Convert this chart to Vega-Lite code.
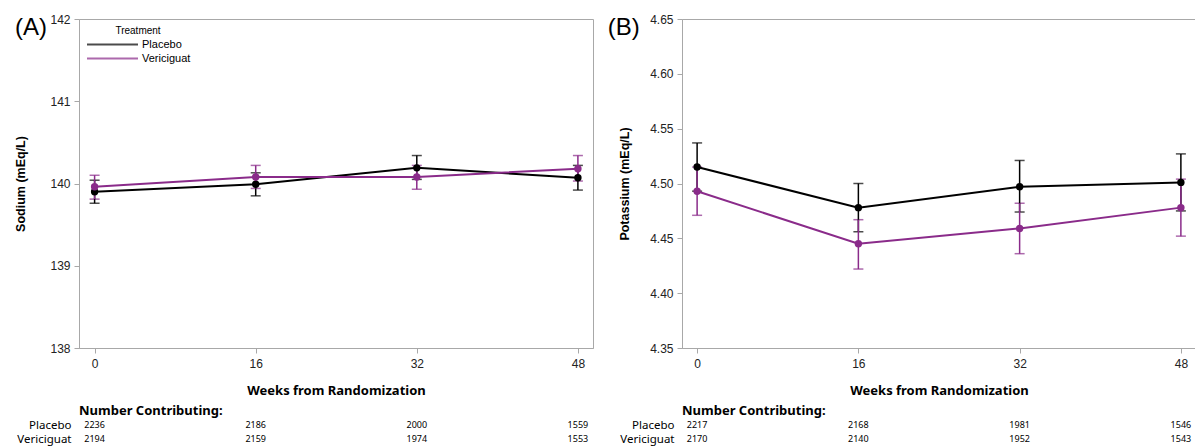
{
  "$schema": "https://vega.github.io/schema/vega-lite/v6.json",
  "background": "white",
  "padding": {"left": 14, "top": 12, "right": 0, "bottom": 0},
  "spacing": 13,
  "datasets": {
    "sodium": [
      {"week": 0, "trt": "Placebo", "mean": 139.90, "lo": 139.76, "hi": 140.04},
      {"week": 16, "trt": "Placebo", "mean": 139.99, "lo": 139.85, "hi": 140.13},
      {"week": 32, "trt": "Placebo", "mean": 140.19, "lo": 140.05, "hi": 140.34},
      {"week": 48, "trt": "Placebo", "mean": 140.07, "lo": 139.92, "hi": 140.22},
      {"week": 0, "trt": "Vericiguat", "mean": 139.96, "lo": 139.81, "hi": 140.10},
      {"week": 16, "trt": "Vericiguat", "mean": 140.08, "lo": 139.94, "hi": 140.22},
      {"week": 32, "trt": "Vericiguat", "mean": 140.08, "lo": 139.93, "hi": 140.22},
      {"week": 48, "trt": "Vericiguat", "mean": 140.18, "lo": 140.03, "hi": 140.34}
    ],
    "potassium": [
      {"week": 0, "trt": "Placebo", "mean": 4.515, "lo": 4.493, "hi": 4.537},
      {"week": 16, "trt": "Placebo", "mean": 4.478, "lo": 4.456, "hi": 4.500},
      {"week": 32, "trt": "Placebo", "mean": 4.497, "lo": 4.474, "hi": 4.521},
      {"week": 48, "trt": "Placebo", "mean": 4.501, "lo": 4.475, "hi": 4.527},
      {"week": 0, "trt": "Vericiguat", "mean": 4.493, "lo": 4.471, "hi": 4.515},
      {"week": 16, "trt": "Vericiguat", "mean": 4.445, "lo": 4.422, "hi": 4.467},
      {"week": 32, "trt": "Vericiguat", "mean": 4.459, "lo": 4.436, "hi": 4.482},
      {"week": 48, "trt": "Vericiguat", "mean": 4.478, "lo": 4.452, "hi": 4.504}
    ],
    "countsA": [
      {"week": 0, "trt": "Placebo", "n": 2236},
      {"week": 16, "trt": "Placebo", "n": 2186},
      {"week": 32, "trt": "Placebo", "n": 2000},
      {"week": 48, "trt": "Placebo", "n": 1559},
      {"week": 0, "trt": "Vericiguat", "n": 2194},
      {"week": 16, "trt": "Vericiguat", "n": 2159},
      {"week": 32, "trt": "Vericiguat", "n": 1974},
      {"week": 48, "trt": "Vericiguat", "n": 1553}
    ],
    "countsB": [
      {"week": 0, "trt": "Placebo", "n": 2217},
      {"week": 16, "trt": "Placebo", "n": 2168},
      {"week": 32, "trt": "Placebo", "n": 1981},
      {"week": 48, "trt": "Placebo", "n": 1546},
      {"week": 0, "trt": "Vericiguat", "n": 2170},
      {"week": 16, "trt": "Vericiguat", "n": 2140},
      {"week": 32, "trt": "Vericiguat", "n": 1952},
      {"week": 48, "trt": "Vericiguat", "n": 1543}
    ]
  },
  "hconcat": [
    {
      "spacing": 7,
      "vconcat": [
        {
          "title": {"text": "(A)", "anchor": "start", "frame": "bounds", "fontSize": 24, "fontWeight": "normal", "font": "Liberation Sans", "color": "black", "baseline": "top", "offset": 0, "dy": 27},
          "width": 514,
          "height": 329,
          "data": {"name": "sodium"},
          "layer": [
            {
              "mark": {"type": "errorbar", "ticks": {"size": 10}, "thickness": 1.5},
              "encoding": {
                "x": {"field": "week", "type": "quantitative", "scale": {"domain": [-1.55, 49.5], "nice": false, "zero": false}, "axis": {"values": [0, 16, 32, 48], "title": "Weeks from Randomization", "titleFont": "Noto Sans", "titleFontSize": 13, "titlePadding": 15, "labelPadding": 5, "labelFlush": false}},
                "y": {"field": "lo", "type": "quantitative", "scale": {"domain": [138, 142], "nice": false, "zero": false}, "axis": {"values": [138, 139, 140, 141, 142], "format": "d", "title": "Sodium (mEq/L)", "titlePadding": 22}},
                "y2": {"field": "hi"},
                "color": {"field": "trt", "type": "nominal", "scale": {"domain": ["Placebo", "Vericiguat"], "range": ["#000000", "#8a2b8a"]}}
              }
            },
            {
              "mark": {"type": "line", "strokeWidth": 2},
              "encoding": {
                "x": {"field": "week", "type": "quantitative"},
                "y": {"field": "mean", "type": "quantitative", "axis": {"values": [138, 139, 140, 141, 142], "format": "d", "title": "Sodium (mEq/L)", "titlePadding": 22}},
                "color": {"field": "trt", "type": "nominal", "scale": {"domain": ["Placebo", "Vericiguat"], "range": ["#000000", "#8a2b8a"]}, "legend": {"title": "Treatment", "orient": "top-left", "offset": 7, "symbolType": "M-5,0H5", "symbolSize": 104, "symbolStrokeWidth": 2, "symbolOffset": 20, "labelOffset": 23, "titleAnchor": "middle", "titleFontSize": 10, "titleFontWeight": "normal", "titleFont": "Liberation Sans", "labelFont": "Liberation Sans", "labelFontSize": 11, "titleColor": "black", "labelColor": "black", "titlePadding": 2, "rowPadding": 2, "padding": 0}}
              }
            },
            {
              "mark": {"type": "point", "filled": true, "size": 55, "opacity": 1},
              "encoding": {
                "x": {"field": "week", "type": "quantitative"},
                "y": {"field": "mean", "type": "quantitative"},
                "fill": {"field": "trt", "type": "nominal", "scale": {"domain": ["Placebo", "Vericiguat"], "range": ["#000000", "#8a2b8a"]}, "legend": null}
              }
            }
          ]
        },
        {
          "width": 514,
          "height": 28,
          "view": {"stroke": null},
          "title": {"text": "Number Contributing:", "anchor": "start", "frame": "group", "font": "Noto Sans", "fontSize": 13, "fontWeight": "bold", "color": "black", "offset": 0},
          "data": {"name": "countsA"},
          "mark": {"type": "text", "font": "Noto Sans", "fontSize": 9, "color": "black"},
          "encoding": {
            "x": {"field": "week", "type": "quantitative", "scale": {"domain": [-1.55, 49.5], "nice": false, "zero": false}, "axis": null},
            "y": {"field": "trt", "type": "nominal", "scale": {"domain": ["Placebo", "Vericiguat"], "paddingInner": 0, "paddingOuter": 0}, "axis": {"title": null, "domain": false, "ticks": false, "labelPadding": 8, "labelFont": "Noto Sans", "labelFontSize": 11.5, "labelColor": "black"}},
            "text": {"field": "n", "type": "quantitative", "format": "d"}
          }
        }
      ]
    },
    {
      "spacing": 7,
      "vconcat": [
        {
          "title": {"text": "(B)", "anchor": "start", "frame": "bounds", "fontSize": 24, "fontWeight": "normal", "font": "Liberation Sans", "color": "black", "baseline": "top", "offset": 0, "dy": 27, "dx": -11},
          "width": 514,
          "height": 329,
          "data": {"name": "potassium"},
          "layer": [
            {
              "mark": {"type": "errorbar", "ticks": {"size": 10}, "thickness": 1.5},
              "encoding": {
                "x": {"field": "week", "type": "quantitative", "scale": {"domain": [-1.5, 49.5], "nice": false, "zero": false}, "axis": {"values": [0, 16, 32, 48], "title": "Weeks from Randomization", "titleFont": "Noto Sans", "titleFontSize": 13, "titlePadding": 15, "labelPadding": 5, "labelFlush": false}},
                "y": {"field": "lo", "type": "quantitative", "scale": {"domain": [4.35, 4.65], "nice": false, "zero": false}, "axis": {"values": [4.35, 4.40, 4.45, 4.50, 4.55, 4.60, 4.65], "format": ".2f", "title": "Potassium (mEq/L)", "titlePadding": 18}},
                "y2": {"field": "hi"},
                "color": {"field": "trt", "type": "nominal", "scale": {"domain": ["Placebo", "Vericiguat"], "range": ["#000000", "#8a2b8a"]}}
              }
            },
            {
              "mark": {"type": "line", "strokeWidth": 2},
              "encoding": {
                "x": {"field": "week", "type": "quantitative"},
                "y": {"field": "mean", "type": "quantitative", "axis": {"values": [4.35, 4.40, 4.45, 4.50, 4.55, 4.60, 4.65], "format": ".2f", "title": "Potassium (mEq/L)", "titlePadding": 18}},
                "color": {"field": "trt", "type": "nominal", "scale": {"domain": ["Placebo", "Vericiguat"], "range": ["#000000", "#8a2b8a"]}, "legend": {"title": "Treatment", "orient": "top-left", "offset": 7, "symbolType": "M-5,0H5", "symbolSize": 104, "symbolStrokeWidth": 2, "symbolOffset": 20, "labelOffset": 23, "titleAnchor": "middle", "titleFontSize": 10, "titleFontWeight": "normal", "titleFont": "Liberation Sans", "labelFont": "Liberation Sans", "labelFontSize": 11, "titleColor": "black", "labelColor": "black", "titlePadding": 2, "rowPadding": 2, "padding": 0}}
              }
            },
            {
              "mark": {"type": "point", "filled": true, "size": 55, "opacity": 1},
              "encoding": {
                "x": {"field": "week", "type": "quantitative"},
                "y": {"field": "mean", "type": "quantitative"},
                "fill": {"field": "trt", "type": "nominal", "scale": {"domain": ["Placebo", "Vericiguat"], "range": ["#000000", "#8a2b8a"]}, "legend": null}
              }
            }
          ]
        },
        {
          "width": 514,
          "height": 28,
          "view": {"stroke": null},
          "title": {"text": "Number Contributing:", "anchor": "start", "frame": "group", "font": "Noto Sans", "fontSize": 13, "fontWeight": "bold", "color": "black", "offset": 0},
          "data": {"name": "countsB"},
          "mark": {"type": "text", "font": "Noto Sans", "fontSize": 9, "color": "black"},
          "encoding": {
            "x": {"field": "week", "type": "quantitative", "scale": {"domain": [-1.5, 49.5], "nice": false, "zero": false}, "axis": null},
            "y": {"field": "trt", "type": "nominal", "scale": {"domain": ["Placebo", "Vericiguat"], "paddingInner": 0, "paddingOuter": 0}, "axis": {"title": null, "domain": false, "ticks": false, "labelPadding": 8, "labelFont": "Noto Sans", "labelFontSize": 11.5, "labelColor": "black"}},
            "text": {"field": "n", "type": "quantitative", "format": "d"}
          }
        }
      ]
    }
  ],
  "config": {
    "view": {"stroke": "#a8a8a8", "strokeWidth": 1},
    "axis": {"grid": false, "domainColor": "#a8a8a8", "tickColor": "#a8a8a8", "tickSize": 5, "labelFont": "Liberation Sans", "labelFontSize": 12, "labelColor": "#222222", "labelPadding": 4, "titleFont": "Liberation Sans", "titleFontSize": 12.5, "titleFontWeight": "bold", "titleColor": "black"}
  }
}
